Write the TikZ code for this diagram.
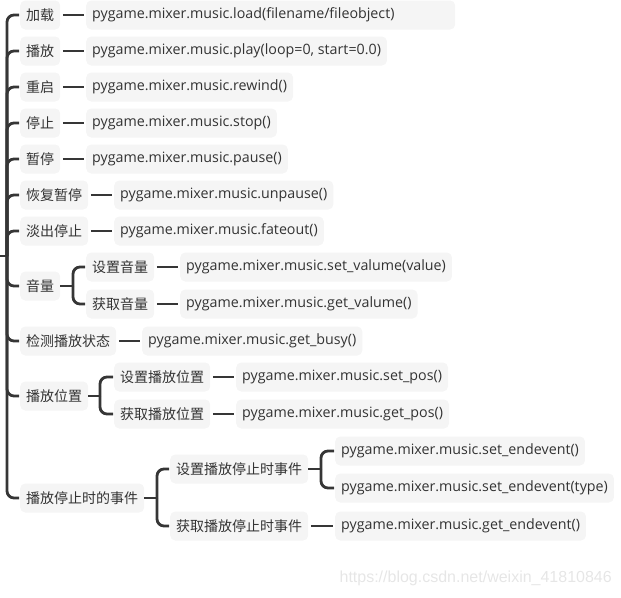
\documentclass[tikz,border=0pt]{standalone}
\usepackage{fontspec}
\setmainfont{Open Sans}
\newfontfamily\cjk{Noto Sans CJK SC}
\newfontfamily\wmfont{Liberation Sans}
\definecolor{linec}{HTML}{363636}
\definecolor{boxc}{HTML}{F5F5F5}
\definecolor{txtc}{HTML}{333333}
\definecolor{wmc}{HTML}{E6E6E6}
\tikzset{
  basebox/.style={fill=boxc, rounded corners=5pt, minimum height=29pt,
    inner xsep=6pt, inner ysep=0pt, anchor=west, text=txtc},
  cn/.style={basebox, font=\cjk\fontsize{14}{16}\selectfont},
  code/.style={basebox, font=\fontsize{14.25}{16}\selectfont},
  link/.style={draw=linec, line width=2.8pt},
  straight/.style={link, shorten <=2.5pt, shorten >=2.5pt},
  branch/.style={link, rounded corners=7pt, shorten >=1pt},
}
\begin{document}
\begin{tikzpicture}[x=1pt,y=-1pt]
\useasboundingbox (0,0) rectangle (621,597);
% level 1
\node[cn] (a1) at (20,15) {加载};
\node[cn] (a2) at (20,51) {播放};
\node[cn] (a3) at (20,87) {重启};
\node[cn] (a4) at (20,123) {停止};
\node[cn] (a5) at (20,159) {暂停};
\node[cn] (a6) at (20,195) {恢复暂停};
\node[cn] (a7) at (20,231) {淡出停止};
\node[cn] (a8) at (20,286) {音量};
\node[cn] (a9) at (20,341) {检测播放状态};
\node[cn] (a10) at (20,396) {播放位置};
\node[cn] (a11) at (20,498) {播放停止时的事件};
% level 2
\node[code, text width=357pt, align=left] (b1) at (86,15) {pygame.mixer.music.load(filename/fileobject)};
\node[code] (b2) at (86,51) {pygame.mixer.music.play(loop=0, start=0.0)};
\node[code] (b3) at (86,87) {pygame.mixer.music.rewind()};
\node[code] (b4) at (86,123) {pygame.mixer.music.stop()};
\node[code] (b5) at (86,159) {pygame.mixer.music.pause()};
\node[code] (b6) at (114,195) {pygame.mixer.music.unpause()};
\node[code] (b7) at (114,231) {pygame.mixer.music.fateout()};
\node[cn] (b8a) at (86,267) {设置音量};
\node[cn] (b8b) at (86,304) {获取音量};
\node[code] (b9) at (142,341) {pygame.mixer.music.get\_busy()};
\node[cn] (b10a) at (114,377) {设置播放位置};
\node[cn] (b10b) at (114,414) {获取播放位置};
\node[cn] (b11a) at (170,469) {设置播放停止时事件};
\node[cn] (b11b) at (170,526) {获取播放停止时事件};
% level 3
\node[code] (c8a) at (180,267) {pygame.mixer.music.set\_valume(value)};
\node[code] (c8b) at (180,304) {pygame.mixer.music.get\_valume()};
\node[code] (c10a) at (236,377) {pygame.mixer.music.set\_pos()};
\node[code] (c10b) at (236,414) {pygame.mixer.music.get\_pos()};
\node[code] (c11a) at (335,451) {pygame.mixer.music.set\_endevent()};
\node[code] (c11b) at (335,488) {pygame.mixer.music.set\_endevent(type)};
\node[code] (c11c) at (335,526) {pygame.mixer.music.get\_endevent()};
% watermark
\node[font=\wmfont\fontsize{16}{16}\selectfont, text=wmc, anchor=east, inner sep=0pt] (wm) at (612,578) {https://blog.csdn.net/weixin\_41810846};
% trunk
\coordinate (root) at (0,256);
\coordinate (tr) at (7,256);
\draw[link] (root) -- (tr);
\foreach \n in {a1,a2,a3,a4,a5,a6,a7,a8,a9,a10,a11}
  \draw[branch] (tr) |- (\n.west);
% straight connectors
\foreach \p/\c in {a1/b1,a2/b2,a3/b3,a4/b4,a5/b5,a6/b6,a7/b7,a9/b9,b8a/c8a,b8b/c8b,b10a/c10a,b10b/c10b,b11b/c11c}
  \draw[straight] (\p.east) -- (\c.west);
% brackets
\coordinate (j8) at (73,286);
\draw[link] (a8.east) -- (j8);
\draw[branch] (j8) |- (b8a.west);
\draw[branch] (j8) |- (b8b.west);
\coordinate (j10) at (100,396);
\draw[link] (a10.east) -- (j10);
\draw[branch] (j10) |- (b10a.west);
\draw[branch] (j10) |- (b10b.west);
\coordinate (j11) at (157,498);
\draw[link] (a11.east) -- (j11);
\draw[branch] (j11) |- (b11a.west);
\draw[branch] (j11) |- (b11b.west);
\coordinate (j11a) at (321,469);
\draw[link] (b11a.east) -- (j11a);
\draw[branch] (j11a) |- (c11a.west);
\draw[branch] (j11a) |- (c11b.west);
\end{tikzpicture}
\end{document}
